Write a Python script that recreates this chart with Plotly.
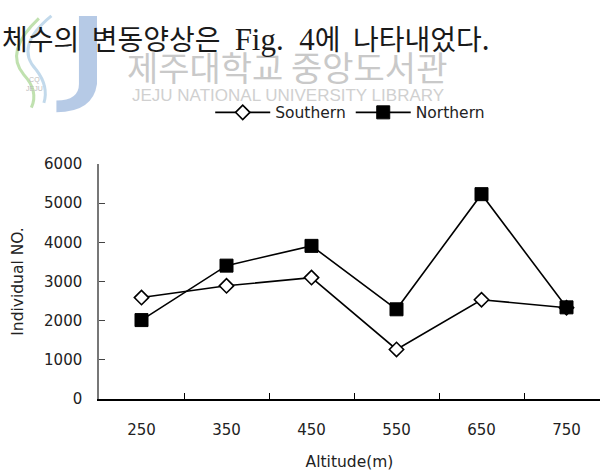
import plotly.graph_objects as go

altitudes = ["250", "350", "450", "550", "650", "750"]
southern = [2590, 2890, 3100, 1265, 2535, 2330]
northern = [2015, 3405, 3910, 2290, 5230, 2340]
y_ticks = [0, 1000, 2000, 3000, 4000, 5000, 6000]

header_text = ("체수의\u00a0\u00a0변동양상은\u2002"
               "<span style=\"font-family:'Liberation Serif';font-size:31px\">Fig.\u00a0\u00a04</span>"
               "에\u00a0\u00a0나타내었다.")
watermark_ko = "제주대학교 중앙도서관"
watermark_en = "JEJU NATIONAL UNIVERSITY LIBRARY"

FONT = "DejaVu Sans, Verdana, sans-serif"
TXT = "#222"

fig = go.Figure()
fig.add_trace(go.Scatter(
    x=altitudes, y=southern, name="Southern", mode="lines+markers",
    line=dict(color="black", width=1.6),
    marker=dict(symbol="diamond", size=11, color="white",
                line=dict(color="black", width=1.6)),
))
fig.add_trace(go.Scatter(
    x=altitudes, y=northern, name="Northern", mode="lines+markers",
    line=dict(color="black", width=1.6),
    marker=dict(symbol="square", size=13, color="black",
                line=dict(color="black", width=1)),
))

fig.update_layout(
    width=600, height=473,
    margin=dict(l=99, r=0, t=164, b=74),
    paper_bgcolor="white", plot_bgcolor="white",
    font=dict(family=FONT, size=15, color=TXT),
    showlegend=True,
    legend=dict(orientation="h", x=0.222, y=1.218, xanchor="left", yanchor="middle",
                font=dict(family=FONT, size=15.5, color=TXT),
                bgcolor="rgba(0,0,0,0)", itemwidth=55, tracegroupgap=0,
                traceorder="normal"),
    xaxis=dict(
        type="category", range=[-0.5, 5.394],
        tickson="boundaries", ticks="inside", ticklen=6, tickcolor="black", tickwidth=1,
        showline=True, linecolor="black", linewidth=1.5,
        showgrid=False, zeroline=False,
        tickfont=dict(family=FONT, size=15, color=TXT),
        ticklabelstandoff=16,
        title=dict(text="Altitude(m)", font=dict(family=FONT, size=15.5, color=TXT), standoff=18),
    ),
    yaxis=dict(
        range=[0, 6000], tickvals=y_ticks,
        ticks="inside", ticklen=6, tickcolor="#444", tickwidth=1,
        showline=True, linecolor="#777", linewidth=1.5,
        showgrid=False, zeroline=False,
        tickfont=dict(family=FONT, size=15, color=TXT),
        ticklabelstandoff=12,
        title=dict(text="Individual NO.", font=dict(family=FONT, size=15.5, color=TXT), standoff=17),
    ),
    shapes=[
        # decorative watermark logo (blue J and swooshes)
        dict(type="path", xref="paper", yref="paper", layer="below",
             path="M -0.040,1.63 L -0.004,1.63 L -0.004,1.34 Q -0.012,1.22 -0.085,1.22 L -0.085,1.27 Q -0.040,1.27 -0.040,1.34 Z",
             fillcolor="rgba(110,150,205,0.5)", line=dict(width=0)),
        dict(type="path", xref="paper", yref="paper", layer="below",
             path="M -0.12,1.62 Q -0.19,1.48 -0.15,1.38 Q -0.12,1.31 -0.135,1.24",
             line=dict(color="rgba(140,200,110,0.55)", width=3)),
        dict(type="path", xref="paper", yref="paper", layer="below",
             path="M -0.095,1.63 Q -0.17,1.50 -0.125,1.40 Q -0.10,1.33 -0.11,1.26",
             line=dict(color="rgba(120,170,210,0.45)", width=3)),
    ],
    annotations=[
        dict(text=watermark_ko, xref="paper", yref="paper", x=0.052, y=1.415,
             xanchor="left", yanchor="middle", showarrow=False,
             font=dict(family="Noto Sans CJK KR", size=34, color="#c9c9c9")),
        dict(text=watermark_en, xref="paper", yref="paper", x=0.062, y=1.292,
             xanchor="left", yanchor="middle", showarrow=False,
             font=dict(family="Liberation Sans", size=17, color="#d0d0d0")),
        dict(text="CQ<br>JEJU", xref="paper", yref="paper", x=-0.128, y=1.34,
             xanchor="center", yanchor="middle", showarrow=False,
             font=dict(family="Liberation Sans", size=7, color="#bbbbbb")),
        dict(text=header_text, xref="paper", yref="paper", x=-0.1976, y=1.535,
             xanchor="left", yanchor="middle", showarrow=False,
             font=dict(family="Noto Sans CJK KR", size=28, color="#1a1a1a")),
    ],
)

fig.write_html("out.html", config={"displayModeBar": False},
               post_script="document.body.style.margin='0';")
